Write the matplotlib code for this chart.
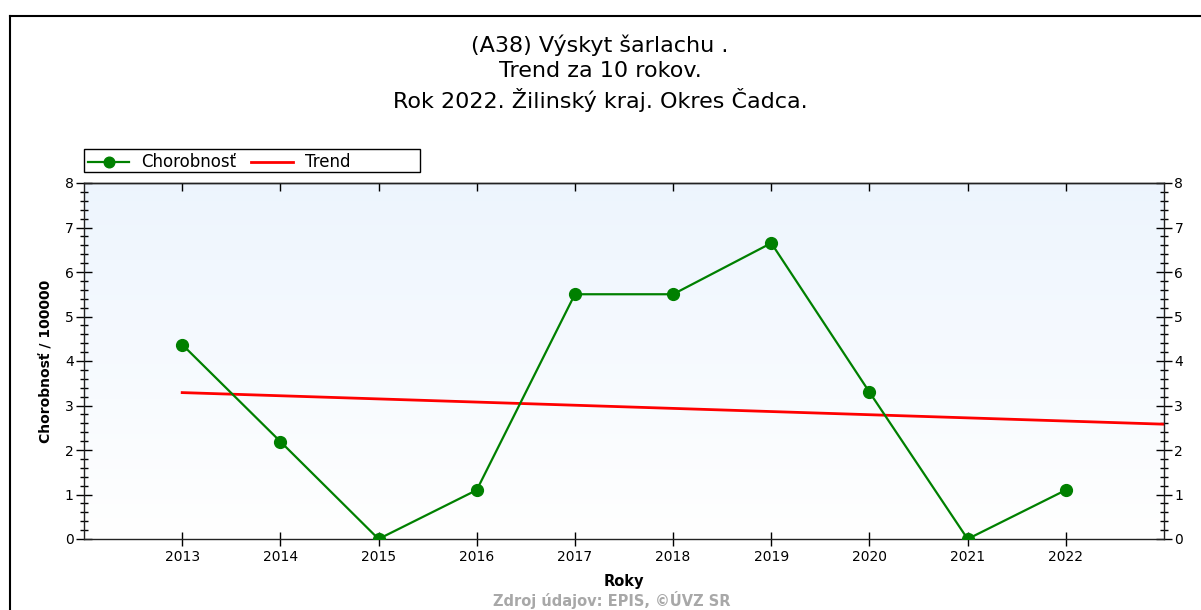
import numpy as np
import matplotlib
matplotlib.use('Agg')
import matplotlib.pyplot as plt
from matplotlib.lines import Line2D
from matplotlib.patches import Rectangle
from matplotlib.ticker import MultipleLocator

plt.rcParams['font.family'] = ['DejaVu Sans']

# údaje
roky = [2013, 2014, 2015, 2016, 2017, 2018, 2019, 2020, 2021, 2022]
chorobnost = [4.37, 2.19, 0.0, 1.1, 5.5, 5.5, 6.65, 3.3, 0.0, 1.1]
trend_roky = [2013, 2023]
trend_hodnoty = [3.29, 2.58]

nadpis = "(A38) Výskyt šarlachu .\nTrend za 10 rokov.\nRok 2022. Žilinský kraj. Okres Čadca."
zdroj = "Zdroj údajov: EPIS, ©ÚVZ SR"

W, H = 1201, 610
fig = plt.figure(figsize=(12.01, 6.10), dpi=100)
ax = fig.add_axes([84 / W, 1 - 539 / H, 1080 / W, 356 / H])

# gradient pozadia
grad = np.linspace(0, 1, 256).reshape(-1, 1)
top = np.array([0.93, 0.96, 0.995])
bottom = np.array([1.0, 1.0, 1.0])
img = top[None, None, :] * (1 - grad[:, :, None]) + bottom[None, None, :] * grad[:, :, None]
ax.imshow(img, extent=[2012, 2023, 0, 8], aspect='auto', zorder=0, origin='upper')

ax.plot(roky, chorobnost, color='#008000', lw=1.6, marker='o', ms=8.5,
        label='Chorobnosť', zorder=3)
ax.plot(trend_roky, trend_hodnoty, color='#ff0000', lw=2, label='Trend', zorder=2)

ax.set_xlim(2012, 2023)
ax.set_ylim(0, 8)
ax.set_xticks(roky)
ax.yaxis.set_major_locator(MultipleLocator(1))
ax.yaxis.set_minor_locator(MultipleLocator(0.2))

for s in ax.spines.values():
    s.set_linewidth(1.0)
    s.set_color('#222222')

ax.tick_params(axis='x', which='major', direction='inout', length=10, width=1,
               labelsize=10, pad=3)
ax.tick_params(axis='y', which='major', direction='inout', length=11, width=1,
               right=True, labelright=True, labelsize=10, pad=2)
ax.tick_params(axis='y', which='minor', direction='inout', length=6, width=1,
               right=True)

sec = ax.secondary_xaxis('top')
sec.set_xticks(roky)
sec.tick_params(direction='in', length=6, width=1, labeltop=False)
sec.spines['top'].set_linewidth(1.0)

ax.set_xlabel('Roky', fontsize=10.5, fontweight='bold', labelpad=7)
ax.set_ylabel('Chorobnosť / 100000', fontsize=10, fontweight='bold', labelpad=8)

leg = ax.legend(loc='lower left', bbox_to_anchor=(0.002, 1.028), ncol=2, fontsize=12,
                frameon=False, borderaxespad=0, borderpad=0.1,
                handlelength=2.5, columnspacing=0.9, handletextpad=0.7,
                markerscale=0.9)
fig.add_artist(Rectangle((84 / W, 1 - 172 / H), 336 / W, 23 / H, transform=fig.transFigure,
                         fill=False, edgecolor='black', lw=1.0))

fig.text(600 / W, 1 - 34 / H, nadpis, ha='center', va='top', fontsize=16,
         linespacing=1.36)
fig.text(612 / W, 1 / H, zdroj, ha='center', va='bottom', fontsize=10.5,
         color='#a8a8a8', fontweight='bold')

# rámček grafu
fig.add_artist(Line2D([10 / W, 10 / W], [0, 1 - 16 / H], transform=fig.transFigure,
                      color='black', lw=1.5))
fig.add_artist(Line2D([10 / W, 1], [1 - 16 / H, 1 - 16 / H], transform=fig.transFigure,
                      color='black', lw=1.5))

fig.savefig('out.png', dpi=100, facecolor='white')
